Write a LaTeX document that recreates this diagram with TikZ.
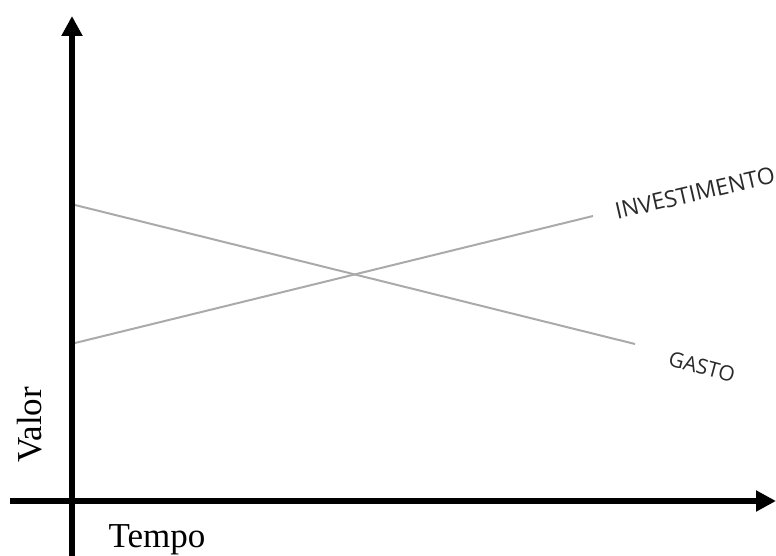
\documentclass[tikz,border=0pt]{standalone}
\usepackage{fontspec}
\setmainfont{Liberation Serif}
\newfontfamily\labelfont{Open Sans}
\usetikzlibrary{arrows.meta}
\definecolor{linegray}{HTML}{AAAAAA}
\definecolor{labelgray}{HTML}{2A2A2A}
\tikzset{
  axisline/.style={line width=6pt,-{Triangle[width=20pt,length=20pt]}},
  dataline/.style={line width=2pt,linegray},
  serieslabel/.style={text=labelgray,inner sep=0pt},
  axislabel/.style={font=\fontsize{35}{40}\selectfont,inner sep=0pt}
}
\begin{document}
\begin{tikzpicture}[x=1pt,y=-1pt]
\useasboundingbox (0,0) rectangle (776,556);
\coordinate (ybot) at (72,556);
\coordinate (ytop) at (72,16);
\coordinate (xleft) at (10,501);
\coordinate (xright) at (776,501);
\coordinate (g1) at (75,205);
\coordinate (g2) at (635,344);
\coordinate (i1) at (75,343);
\coordinate (i2) at (593,216);
\draw[dataline] (g1) -- (g2);
\draw[dataline] (i1) -- (i2);
\draw[axisline] (ybot) -- (ytop);
\draw[axisline] (xleft) -- (xright);
\node[serieslabel,font=\labelfont\fontsize{23}{27}\selectfont,rotate=13] (inv) at (695,193) {INVESTIMENTO};
\node[serieslabel,font=\labelfont\fontsize{21}{25}\selectfont,rotate=-15] (gasto) at (702,367) {GASTO};
\node[axislabel,rotate=90] (valor) at (30,425) {Valor};
\node[axislabel] (tempo) at (157,540) {Tempo};
\end{tikzpicture}
\end{document}
